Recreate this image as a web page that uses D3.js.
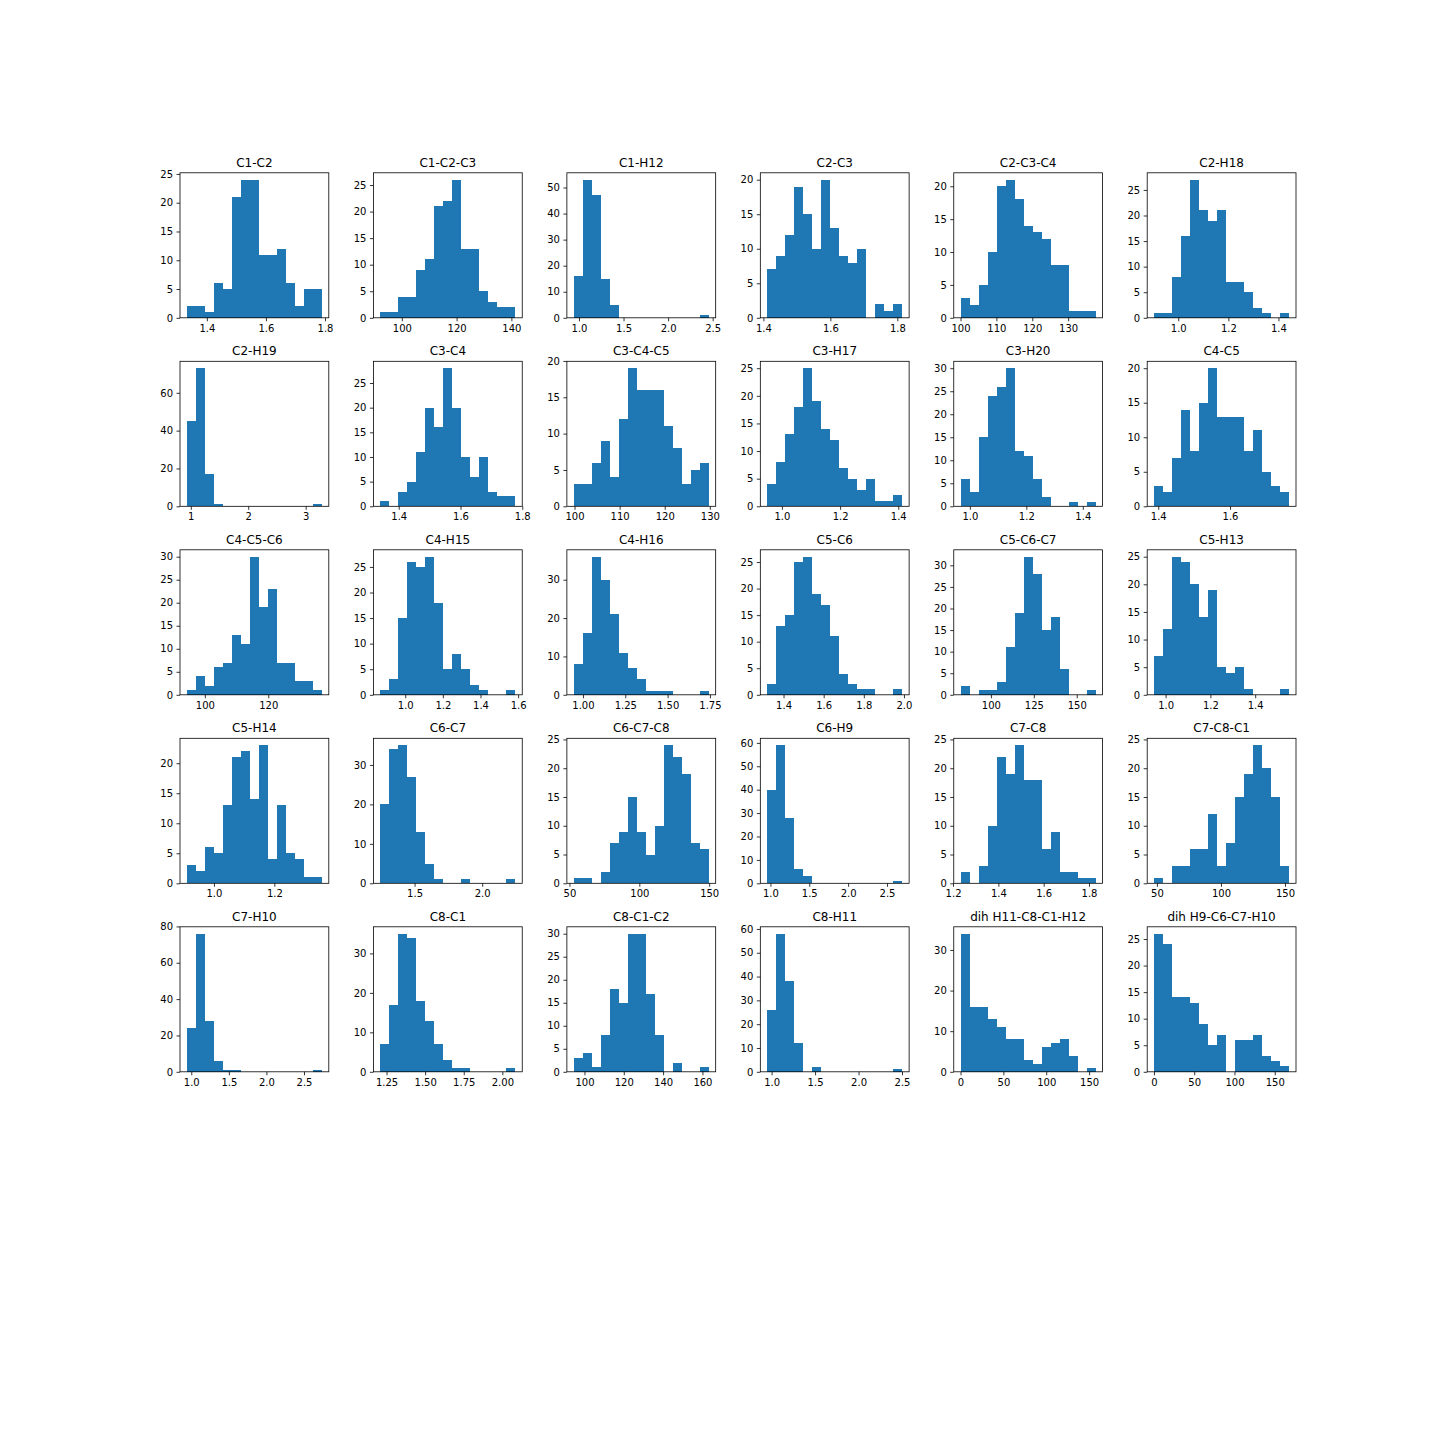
<!DOCTYPE html>
<html>
<head>
<meta charset="utf-8">
<script src="https://cdn.jsdelivr.net/npm/d3@7"></script>
<style>
  body { margin: 0; background: #fff; }
  text { font-family: "DejaVu Sans", sans-serif; }
</style>
</head>
<body>
<script>
"use strict";

// one histogram per subplot, 15 bins each
const titles = [
  "C1-C2", "C1-C2-C3", "C1-H12", "C2-C3", "C2-C3-C4", "C2-H18",
  "C2-H19", "C3-C4", "C3-C4-C5", "C3-H17", "C3-H20", "C4-C5",
  "C4-C5-C6", "C4-H15", "C4-H16", "C5-C6", "C5-C6-C7", "C5-H13",
  "C5-H14", "C6-C7", "C6-C7-C8", "C6-H9", "C7-C8", "C7-C8-C1",
  "C7-H10", "C8-C1", "C8-C1-C2", "C8-H11", "dih H11-C8-C1-H12", "dih H9-C6-C7-H10"
];

// first and last bin edge of each histogram
const binLo = [
  1.332, 92.1, 0.94, 1.411, 100.0, 0.903,
  0.93, 1.340, 99.8, 0.949, 0.967, 1.388,
  94.3, 0.867, 0.945, 1.318, 82.3, 0.948,
  0.910, 1.246, 53.0, 0.957, 1.233, 47.7,
  0.94, 1.209, 94.5, 0.948, 0.0, 0.0
];
const binHi = [
  1.790, 141.5, 2.458, 1.815, 137.7, 1.443,
  3.285, 1.778, 129.8, 1.414, 1.446, 1.765,
  136.95, 1.586, 1.744, 1.992, 161.1, 1.552,
  1.358, 2.246, 149.8, 2.698, 1.830, 153.3,
  2.74, 2.085, 163.3, 2.504, 157.8, 168.0
];

const counts = [
  [2, 2, 1, 6, 5, 21, 24, 24, 11, 11, 12, 6, 2, 5, 5],
  [1, 1, 4, 4, 9, 11, 21, 22, 26, 13, 13, 5, 3, 2, 2],
  [16, 53, 47, 15, 5, 0, 0, 0, 0, 0, 0, 0, 0, 0, 1],
  [7, 9, 12, 19, 15, 10, 20, 13, 9, 8, 10, 0, 2, 1, 2],
  [3, 2, 5, 10, 20, 21, 18, 14, 13, 12, 8, 8, 1, 1, 1],
  [1, 1, 8, 16, 27, 21, 19, 21, 7, 7, 5, 2, 1, 0, 1],
  [45, 73, 17, 1, 0, 0, 0, 0, 0, 0, 0, 0, 0, 0, 1],
  [1, 0, 3, 5, 11, 20, 16, 28, 20, 10, 6, 10, 3, 2, 2],
  [3, 3, 6, 9, 4, 12, 19, 16, 16, 16, 11, 8, 3, 5, 6],
  [4, 8, 13, 18, 25, 19, 14, 12, 7, 5, 3, 5, 1, 1, 2],
  [6, 3, 15, 24, 26, 30, 12, 11, 6, 2, 0, 0, 1, 0, 1],
  [3, 2, 7, 14, 8, 15, 20, 13, 13, 13, 8, 11, 5, 3, 2],
  [1, 4, 2, 6, 7, 13, 11, 30, 19, 23, 7, 7, 3, 3, 1],
  [1, 3, 15, 26, 25, 27, 18, 5, 8, 5, 2, 1, 0, 0, 1],
  [8, 16, 36, 30, 21, 11, 7, 4, 1, 1, 1, 0, 0, 0, 1],
  [2, 13, 15, 25, 26, 19, 17, 11, 4, 2, 1, 1, 0, 0, 1],
  [2, 0, 1, 1, 3, 11, 19, 32, 28, 15, 18, 6, 0, 0, 1],
  [7, 12, 25, 24, 20, 14, 19, 5, 4, 5, 1, 0, 0, 0, 1],
  [3, 2, 6, 5, 13, 21, 22, 14, 23, 4, 13, 5, 4, 1, 1],
  [20, 34, 35, 27, 13, 5, 1, 0, 0, 1, 0, 0, 0, 0, 1],
  [1, 1, 0, 2, 7, 9, 15, 9, 5, 10, 24, 22, 19, 7, 6],
  [40, 59, 28, 6, 3, 0, 0, 0, 0, 0, 0, 0, 0, 0, 1],
  [2, 0, 3, 10, 22, 19, 24, 18, 18, 6, 9, 2, 2, 1, 1],
  [1, 0, 3, 3, 6, 6, 12, 3, 7, 15, 19, 24, 20, 15, 3],
  [24, 76, 28, 6, 1, 1, 0, 0, 0, 0, 0, 0, 0, 0, 1],
  [7, 17, 35, 34, 18, 13, 7, 3, 1, 1, 0, 0, 0, 0, 1],
  [3, 4, 1, 8, 18, 15, 30, 30, 17, 8, 0, 2, 0, 0, 1],
  [26, 58, 38, 12, 0, 2, 0, 0, 0, 0, 0, 0, 0, 0, 1],
  [34, 16, 16, 13, 11, 8, 8, 3, 2, 6, 7, 8, 4, 0, 1],
  [26, 24, 14, 14, 13, 9, 5, 7, 0, 6, 6, 7, 3, 2, 1]
];

const xTickLabels = [
  ["1.4", "1.6", "1.8"], ["100", "120", "140"], ["1.0", "1.5", "2.0", "2.5"],
  ["1.4", "1.6", "1.8"], ["100", "110", "120", "130"], ["1.0", "1.2", "1.4"],
  ["1", "2", "3"], ["1.4", "1.6", "1.8"], ["100", "110", "120", "130"],
  ["1.0", "1.2", "1.4"], ["1.0", "1.2", "1.4"], ["1.4", "1.6"],
  ["100", "120"], ["1.0", "1.2", "1.4", "1.6"], ["1.00", "1.25", "1.50", "1.75"],
  ["1.4", "1.6", "1.8", "2.0"], ["100", "125", "150"], ["1.0", "1.2", "1.4"],
  ["1.0", "1.2"], ["1.5", "2.0"], ["50", "100", "150"],
  ["1.0", "1.5", "2.0", "2.5"], ["1.2", "1.4", "1.6", "1.8"], ["50", "100", "150"],
  ["1.0", "1.5", "2.0", "2.5"], ["1.25", "1.50", "1.75", "2.00"], ["100", "120", "140", "160"],
  ["1.0", "1.5", "2.0", "2.5"], ["0", "50", "100", "150"], ["0", "50", "100", "150"]
];

const nBins = 15;
const nCols = 6;
const gridLeft = 180, gridTop = 172.8;
const axW = 148.8, axH = 145, gapX = 44.64, gapY = 43.5;
const barColor = "#1f77b4";

let svg = d3
  .select("body")
  .append("svg")
  .attr("width", 1440)
  .attr("height", 1440);

svg.append("rect").attr("width", 1440).attr("height", 1440).attr("fill", "#fff");

titles.forEach((title, k) => {
  const col = k % nCols;
  const row = Math.floor(k / nCols);
  const g = svg
    .append("g")
    .attr("transform", `translate(${gridLeft + col * (axW + gapX)},${gridTop + row * (axH + gapY)})`);

  const lo = binLo[k], hi = binHi[k], span = hi - lo;
  const step = span / nBins;

  // matplotlib style 5% margins on x, 5% headroom on y
  const x = d3.scaleLinear()
    .domain([lo - 0.05 * span, hi + 0.05 * span])
    .range([0, axW]);
  const yTop = d3.max(counts[k]) * 1.05;
  const y = d3.scaleLinear().domain([0, yTop]).range([axH, 0]);

  const bins = counts[k].map((c, i) => ({ x0: lo + i * step, x1: lo + (i + 1) * step, c: c }));

  g.selectAll("rect.bar")
    .data(bins.filter(d => d.c > 0))
    .enter()
    .append("rect")
    .attr("class", "bar")
    .attr("x", d => x(d.x0))
    .attr("width", d => x(d.x1) - x(d.x0))
    .attr("y", d => y(d.c))
    .attr("height", d => y(0) - y(d.c))
    .attr("fill", barColor)
    .attr("shape-rendering", "crispEdges");

  // ticks a pixel past the top still get drawn, like matplotlib
  const yTicks = d3.ticks(0, yTop * (1 + 1 / axH), 5);
  const xLabels = xTickLabels[k];

  const yAxis = g.append("g")
    .call(d3.axisLeft(y).tickValues(yTicks).tickSize(3.5).tickPadding(3.5).tickFormat(d3.format("d")));
  const xAxis = g.append("g")
    .attr("transform", `translate(0,${axH})`)
    .call(d3.axisBottom(x).tickValues(xLabels.map(Number)).tickSize(3.5).tickPadding(3.5)
      .tickFormat((d, i) => xLabels[i]));

  [yAxis, xAxis].forEach(a => {
    a.select(".domain").remove();
    a.attr("font-family", "DejaVu Sans").attr("font-size", 10);
    a.selectAll("line").attr("stroke", "#000").attr("stroke-width", 0.8);
    a.selectAll("text").attr("fill", "#000");
  });

  g.append("rect")
    .attr("width", axW)
    .attr("height", axH)
    .attr("fill", "none")
    .attr("stroke", "#000")
    .attr("stroke-width", 0.8);

  g.append("text")
    .attr("x", axW / 2)
    .attr("y", -6)
    .attr("text-anchor", "middle")
    .attr("font-size", 12)
    .attr("fill", "#000")
    .text(title);
});
</script>
</body>
</html>
